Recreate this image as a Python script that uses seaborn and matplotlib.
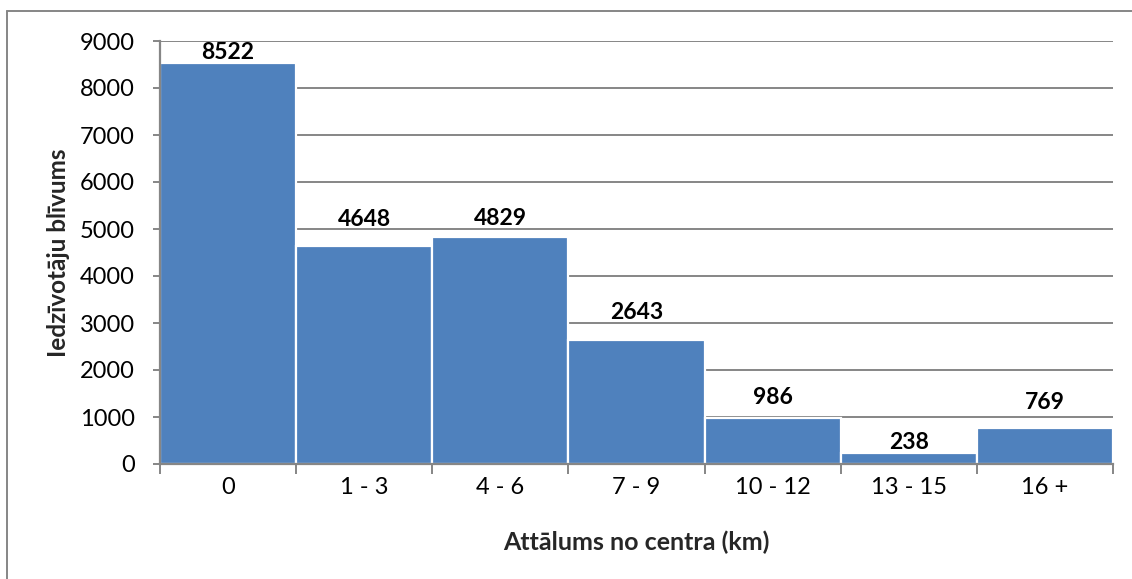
import matplotlib
matplotlib.use("Agg")
import matplotlib.pyplot as plt
from matplotlib.lines import Line2D
from matplotlib.ticker import FixedLocator, NullFormatter
import seaborn as sns

categories = ["0", "1 - 3", "4 - 6", "7 - 9", "10 - 12", "13 - 15", "16 +"]
density = [8522, 4648, 4829, 2643, 986, 238, 769]
y_ticks = [0, 1000, 2000, 3000, 4000, 5000, 6000, 7000, 8000, 9000]

# label gap above each bar, in points (labels sit clear of the gridlines)
label_pad = [0, 11.5, 6, 12, 7, 0, 11]

sns.set_theme(style="white")
plt.rcParams["font.family"] = ["Lato", "DejaVu Sans"]

grey = "#868686"
bar_blue = "#4F81BD"

fig = plt.figure(figsize=(11.32, 5.79), dpi=100)
ax = fig.add_axes([160 / 1132, 1 - 464 / 579, (1113 - 160) / 1132, (464 - 41) / 579])

sns.barplot(x=categories, y=density, color=bar_blue, saturation=1, width=1.0,
            edgecolor="white", linewidth=1.6, ax=ax, zorder=3)

ax.set_xlim(-0.5, len(categories) - 0.5)
ax.set_ylim(0, 9000)
ax.set_yticks(y_ticks)
ax.set_yticklabels([str(t) for t in y_ticks])
ax.yaxis.grid(True, color=grey, linewidth=1.4, zorder=0)
ax.set_axisbelow(True)

for side in ("top", "right"):
    ax.spines[side].set_visible(False)
for side in ("left", "bottom"):
    ax.spines[side].set_color(grey)
    ax.spines[side].set_linewidth(1.6)
    ax.spines[side].set_zorder(4)

# y ticks outward on the left, x ticks at category boundaries
ax.tick_params(axis="y", which="major", direction="out", length=5, width=1.4,
               color=grey, pad=13, labelsize=17, labelcolor="black", left=True)
ax.tick_params(axis="x", which="major", length=0, pad=9, labelsize=17, labelcolor="black")
ax.xaxis.set_minor_locator(FixedLocator([i - 0.5 for i in range(len(categories) + 1)]))
ax.xaxis.set_minor_formatter(NullFormatter())
ax.tick_params(axis="x", which="minor", direction="out", length=7, width=1.4,
               color=grey, bottom=True)

bars = ax.containers[0]
for rect, value, pad in zip(bars, density, label_pad):
    ax.annotate(str(value), (rect.get_x() + rect.get_width() / 2, rect.get_height()),
                xytext=(0, pad), textcoords="offset points", ha="center", va="bottom",
                fontsize=16.5, fontweight="bold", color="black")

ax.set_xlabel("Attālums no centra (km)", fontsize=18, fontweight="bold", labelpad=24)
ax.set_ylabel("Iedzīvotāju blīvums", fontsize=17.5, fontweight="bold")
ax.yaxis.set_label_coords(-0.094, 0.5)

# outer chart frame (top and left edges)
fig.add_artist(Line2D([7 / 1132, 7 / 1132], [0, 1 - 11 / 579],
                      transform=fig.transFigure, color=grey, linewidth=1.4))
fig.add_artist(Line2D([7 / 1132, 1], [1 - 11 / 579, 1 - 11 / 579],
                      transform=fig.transFigure, color=grey, linewidth=1.4))

fig.savefig("out.png", dpi=100, facecolor="white")
